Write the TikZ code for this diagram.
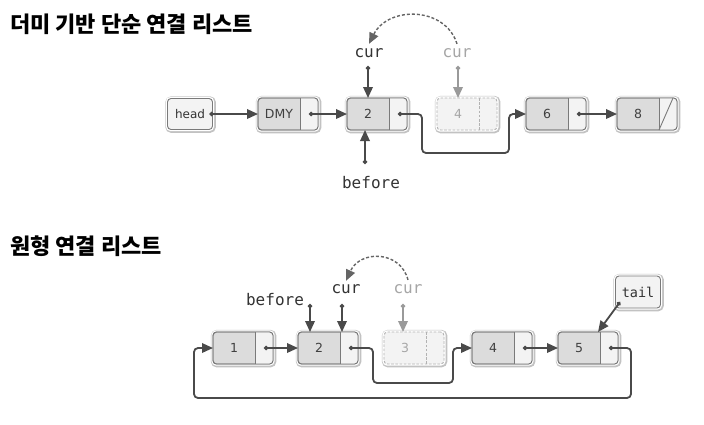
\documentclass[tikz,border=0pt]{standalone}
\usepackage{fontspec}
\setmainfont{DejaVu Sans}
\newfontfamily\kr{Noto Sans CJK KR}
\newfontfamily\mono{DejaVu Sans Mono}
\usetikzlibrary{arrows.meta,calc}
\definecolor{ln}{HTML}{4A4A4A}
\definecolor{bd}{HTML}{7A7A7A}
\definecolor{df}{HTML}{DCDCDC}
\definecolor{pf}{HTML}{F3F3F3}
\definecolor{gt}{HTML}{A6A6A6}
\definecolor{ga}{HTML}{9A9A9A}
\tikzset{
  rim/.style={preaction={draw=black!24,solid,line width=5.6pt,transform canvas={shift={(0.6pt,-0.6pt)}}},
              preaction={draw=white,solid,line width=3.4pt}},
  lbox/.style={rim,rounded corners=3.5pt,draw=bd,line width=0.9pt,fill=df,
               minimum width=60pt,minimum height=32pt,inner sep=0pt,outer sep=0pt},
  gbox/.style={rim,rounded corners=3.5pt,draw=black!30,line width=0.9pt,fill=pf,
               dash pattern=on 2.6pt off 1.6pt,
               minimum width=60pt,minimum height=32pt,inner sep=0pt,outer sep=0pt},
  hbox/.style={rim,rounded corners=3.5pt,draw=bd,line width=0.9pt,fill=pf,
               minimum width=45pt,minimum height=31pt,inner sep=0pt,outer sep=0pt,
               font=\fontsize{12}{13}\selectfont,text=black!80},
  ntext/.style={font=\fontsize{12.5}{13}\selectfont,text=black!75,inner sep=0pt},
  gtext/.style={ntext,text=gt},
  mlab/.style={font=\mono\fontsize{16}{17}\selectfont,text=black!80,inner sep=1pt},
  glab/.style={mlab,text=gt},
  ttl/.style={font=\kr\bfseries\fontsize{22}{25}\selectfont,anchor=west,inner sep=0pt},
  tipA/.tip={Triangle[length=11pt,width=9.5pt]},
  link/.style={draw=ln,line width=1.8pt,rounded corners=4pt,
               {Circle[length=4.2pt]}-tipA},
  glink/.style={link,draw=ga},
  arc/.style={draw=ln!85,line width=1.4pt,dash pattern=on 3pt off 2pt,-tipA}
}
% list node: name, x, y, text
\newcommand\LNode[4]{%
  \node[lbox] (#1) at (#2,#3) {};
  \begin{scope}
    \clip[rounded corners=3.5pt] (#1.south west) rectangle (#1.north east);
    \fill[pf] ([xshift=-18pt]#1.south east) rectangle (#1.north east);
  \end{scope}
  \draw[bd,line width=0.9pt,rounded corners=3.5pt] (#1.south west) rectangle (#1.north east);
  \draw[bd,line width=0.9pt] ([xshift=-18pt]#1.north east) -- ([xshift=-18pt]#1.south east);
  \coordinate (#1p) at ([xshift=-9pt]#1.east);
  \coordinate (#1d) at ([xshift=-39pt]#1.east);
  \node[ntext] (#1t) at (#1d) {#4};
}
\newcommand\GNode[4]{%
  \node[gbox] (#1) at (#2,#3) {};
  \draw[black!30,line width=0.9pt,dash pattern=on 2.6pt off 1.6pt]
     ([xshift=-18pt]#1.north east) -- ([xshift=-18pt]#1.south east);
  \coordinate (#1p) at ([xshift=-9pt]#1.east);
  \coordinate (#1d) at ([xshift=-39pt]#1.east);
  \node[gtext] (#1t) at (#1d) {#4};
}
\begin{document}
\begin{tikzpicture}[x=1pt,y=-1pt]
\useasboundingbox[fill=white] (0,0) rectangle (704,424);

% ---------- top diagram ----------
\node[ttl] (title1) at (10,24) {더미 기반 단순 연결 리스트};

\node[hbox] (head) at (190,114) {head};
\coordinate (headp) at ([xshift=-3pt]head.east);
\LNode{dmy}{288}{114}{DMY}
\LNode{a2}{377}{114}{2}
\GNode{a4}{467}{114}{4}
\LNode{a6}{556}{114}{6}
\LNode{a8}{647}{114}{8}
\draw[bd,line width=0.9pt] ([xshift=-18pt]a8.south east) -- ([xshift=-4pt]a8.north east);

\draw[link] (headp) -- (dmy.west);
\draw[link] (dmyp) -- (a2.west);
\draw[link] (a2p) -- ++(24,0) -- ++(0,39) -| ([xshift=-17pt]a6.west) -- (a6.west);
\draw[link] (a6p) -- (a8.west);

\node[mlab,anchor=base] (cur1) at (369,57) {cur};
\node[glab,anchor=base] (cur1g) at (457,57) {cur};
\draw[link] ($(a2d |- a2.north)+(0,-32)$) -- (a2d |- a2.north);
\draw[glink] ($(a4d |- a4.north)+(0,-32)$) -- (a4d |- a4.north);
\draw[arc] ([yshift=3pt]cur1g.north) .. controls (445,6) and (388,6) .. ([yshift=3pt]cur1.north);

\node[mlab,anchor=base] (before1) at (371,188) {before};
\draw[link] ($(a2d |- a2.south)+(-3,34)$) -- ($(a2d |- a2.south)+(-3,0)$);

% ---------- bottom diagram ----------
\node[ttl] (title2) at (10,246) {원형 연결 리스트};

\LNode{b1}{243}{348}{1}
\LNode{b2}{328}{348}{2}
\GNode{b3}{414}{348}{3}
\LNode{b4}{502}{348}{4}
\LNode{b5}{588}{348}{5}
\node[hbox,minimum width=45pt,minimum height=32pt,font=\mono\fontsize{13.5}{14}\selectfont] (tail) at (638,292) {tail};
\coordinate (tailp) at (620,302);

\draw[link] (b1p) -- (b2.west);
\draw[link] (b2p) -- ++(24,0) -- ++(0,35) -| ([xshift=-19pt]b4.west) -- (b4.west);
\draw[link] (b4p) -- (b5.west);
\draw[link] (b5p) -- ++(22,0) -- ++(0,50) -| ([xshift=-19pt]b1.west) -- (b1.west);
\draw[link] (tailp) -- ([xshift=10pt]b5.north);

\node[mlab,anchor=base] (before2) at (275,305) {before};
\node[mlab,anchor=base] (cur2) at (346,293) {cur};
\node[glab,anchor=base] (cur2g) at (408,293) {cur};
\draw[link] ($(b2.north)+(-18,-28)$) -- ([xshift=-18pt]b2.north);
\draw[link] ($(b2.north)+(14,-28)$) -- ([xshift=14pt]b2.north);
\draw[glink] ($(b3d |- b3.north)+(-2,-28)$) -- ($(b3d |- b3.north)+(-2,0)$);
\draw[arc] ([yshift=3pt]cur2g.north) .. controls (400,250) and (360,250) .. ([yshift=2pt]cur2.north);
\end{tikzpicture}
\end{document}
